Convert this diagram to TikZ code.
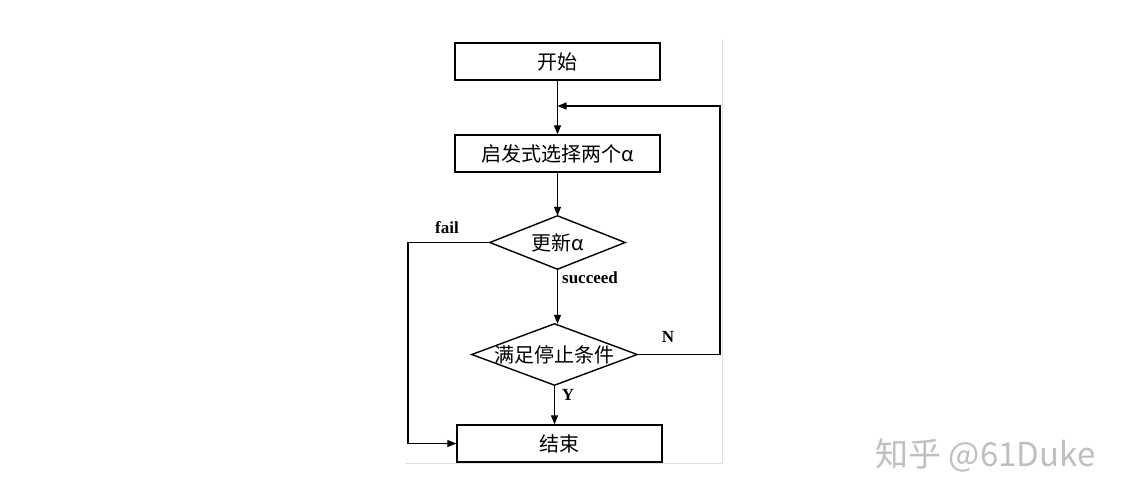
\documentclass[tikz,border=0pt]{standalone}
\usepackage{fontspec}
\setmainfont{Liberation Serif}
\newfontfamily\cjk{Noto Sans CJK SC}
\usetikzlibrary{arrows.meta}
\begin{document}
\begin{tikzpicture}[x=1pt,y=-1pt,
  procbox/.style={draw,line width=1.4pt,minimum width=205pt,minimum height=37pt,inner sep=0pt,font=\cjk\fontsize{20}{22}\selectfont},
  decbox/.style={inner sep=0pt,font=\cjk\fontsize{20}{22}\selectfont},
  dedge/.style={line width=1.4pt,line join=miter},
  conn/.style={line width=1.3pt,-{Triangle[length=9pt,width=7pt]}},
  lbl/.style={font=\bfseries\fontsize{17}{19}\selectfont},
  frame/.style={draw=black!12,line width=1pt}]
\useasboundingbox (0,0) rectangle (1131,500);
\fill[white] (0,0) rectangle (1131,500);
\draw[frame] (722,40) -- (722,463) -- (405,463);
\node[procbox] (start) at (557.5,61.5) {开始};
\node[procbox] (sel) at (557.5,153.5) {启发式选择两个α};
\node[decbox,minimum width=135pt,minimum height=53pt] (upd) at (557.5,242.5) {更新α};
\node[decbox,minimum width=165pt,minimum height=61pt] (stop) at (554.5,354.5) {满足停止条件};
\draw[dedge] (upd.west) -- (upd.north) -- (upd.east) -- (upd.south) -- cycle;
\draw[dedge] (stop.west) -- (stop.north) -- (stop.east) -- (stop.south) -- cycle;
\node[procbox] (end) at (559.5,443.5) {结束};
\coordinate (join) at (557.5,106);
\coordinate (nr) at (720,354.5);
\coordinate (nt) at (720,106);
\coordinate (fl) at (408,242.5);
\coordinate (fb) at (408,443.5);
\draw[conn] (start) -- (sel);
\draw[conn] (sel) -- (upd.north);
\draw[conn] (upd.south) -- (upd.south |- stop.north);
\draw[conn] (stop.south) -- (stop.south |- end.north);
\draw[conn] (stop.east) -- (nr) -- (nt) -- (join);
\draw[conn] (upd.west) -- (fl) -- (fb) -- (end.west);
\node[lbl] (lfail) at (447,228) {fail};
\node[lbl] (lsucc) at (590,278) {succeed};
\node[lbl] (ln) at (668,337) {N};
\node[lbl] (ly) at (568,395) {Y};
\node[font=\cjk\fontsize{33}{35}\selectfont,text=black!25,anchor=west] (wm) at (872,455) {知乎 @61Duke};
\end{tikzpicture}
\end{document}
